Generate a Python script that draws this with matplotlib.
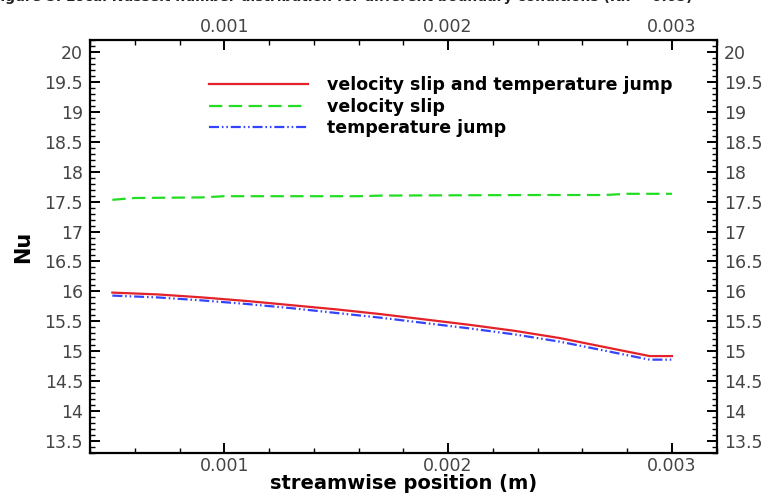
import matplotlib
matplotlib.use("Agg")
import matplotlib.pyplot as plt
from matplotlib.ticker import MultipleLocator, FixedLocator

plt.rcParams['font.family'] = ['DejaVu Sans']

# Local Nusselt number along the channel for three boundary treatments
x_red = [0.0005, 0.0007, 0.0009, 0.0011, 0.0013, 0.0015, 0.0017, 0.0019,
         0.0021, 0.0023, 0.0025, 0.0027, 0.0029, 0.0030]
nu_slip_jump = [15.98, 15.95, 15.90, 15.84, 15.77, 15.70, 15.62, 15.53,
                15.44, 15.34, 15.22, 15.07, 14.92, 14.92]

x_green = [0.0005, 0.0006, 0.0009, 0.0010, 0.0016, 0.0017, 0.0020,
           0.0024, 0.0027, 0.0028, 0.0030]
nu_slip = [17.53, 17.56, 17.57, 17.59, 17.59, 17.60, 17.605,
           17.61, 17.61, 17.63, 17.63]

x_blue = [0.0005, 0.0007, 0.0009, 0.0011, 0.0013, 0.0015, 0.0017, 0.0019,
          0.0021, 0.0023, 0.0025, 0.0027, 0.0029, 0.0030]
nu_jump = [15.93, 15.90, 15.85, 15.79, 15.72, 15.64, 15.56, 15.47,
           15.38, 15.28, 15.16, 15.01, 14.86, 14.86]

labels = ["velocity slip and temperature jump", "velocity slip", "temperature jump"]
x_ticks = [0.001, 0.002, 0.003]
x_tick_labels = ["0.001", "0.002", "0.003"]
y_ticks = [13.5, 14, 14.5, 15, 15.5, 16, 16.5, 17, 17.5, 18, 18.5, 19, 19.5, 20]
y_tick_labels = ["13.5", "14", "14.5", "15", "15.5", "16", "16.5", "17",
                 "17.5", "18", "18.5", "19", "19.5", "20"]

fig = plt.figure(figsize=(7.69, 4.93), dpi=100)
ax = fig.add_axes([0.117, 0.081, 0.815, 0.838])

l1, = ax.plot(x_red, nu_slip_jump, color="#e3222a", lw=1.6, ls="-")
l2, = ax.plot(x_green, nu_slip, color="#22dd22", lw=1.6, ls=(0, (6.0, 2.9)))
l3, = ax.plot(x_blue, nu_jump, color="#3344ff", lw=1.6,
              ls=(0, (4.5, 1.3, 0.7, 1.3, 0.7, 1.3)))

ax.set_xlim(0.0004, 0.0032)
ax.set_ylim(13.3, 20.2)

ax.xaxis.set_major_locator(FixedLocator(x_ticks))
ax.set_xticklabels(x_tick_labels)
ax.xaxis.set_minor_locator(MultipleLocator(0.0002))
ax.yaxis.set_major_locator(FixedLocator(y_ticks))
ax.set_yticklabels(y_tick_labels)
ax.yaxis.set_minor_locator(MultipleLocator(0.1))

ax.tick_params(which="both", direction="in", top=True, right=True,
               labeltop=True, labelright=True, width=1.4, colors="black",
               labelcolor="#444444", labelsize=12.5)
ax.tick_params(which="major", length=7)
ax.tick_params(which="minor", length=3.5, width=1.0)
ax.tick_params(axis="x", which="major", pad=2.5)
ax.tick_params(axis="y", which="major", pad=5)
for s in ax.spines.values():
    s.set_linewidth(1.6)

ax.set_xlabel("streamwise position (m)", fontsize=14, fontweight="bold", labelpad=-0.5)
ax.set_ylabel("Nu", fontsize=15, fontweight="bold", labelpad=8)

leg = ax.legend([l1, l2, l3], labels, loc="upper left",
                bbox_to_anchor=(0.165, 0.95), frameon=False,
                prop={"weight": "bold", "size": 12.5},
                handlelength=5.7, handletextpad=1.1, labelspacing=0.2)

fig.text(-0.012, 1 - 0.5 / 493,
         "Figure 5. Local Nusselt number distribution for different boundary conditions (Kn = 0.05)",
         fontsize=10, fontweight="bold", va="baseline", ha="left", color="#222222")

fig.savefig("out.png", dpi=100)
